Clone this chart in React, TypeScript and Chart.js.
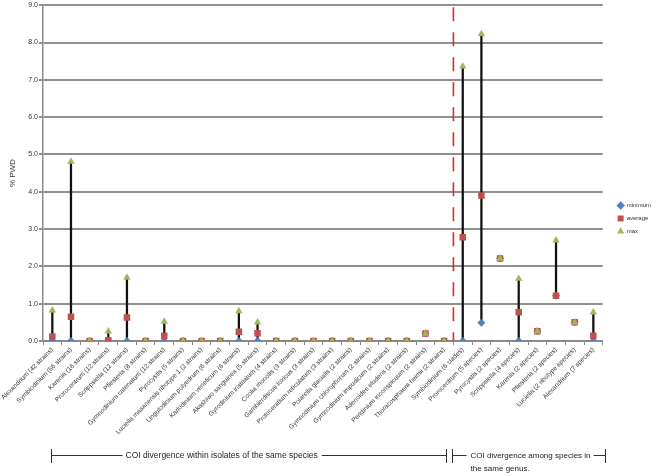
import { useEffect, useRef } from 'react';
import { Chart, registerables } from 'chart.js';

Chart.register(...registerables);

const categories = [
  'Alexandrium (42 strains)',
  'Symbiodinium (66 strains)',
  'Karenia (16 strains)',
  'Prorocentrum (12 strains)',
  'Scrippsiella (12 strains)',
  'Pfiesteria (8 strains)',
  'Gymnodinium catenatum (12 strains)',
  'Pyrocystis (5 strains)',
  'Luciella masanensis ribotype 1 (2 strains)',
  'Lingulodinium polyedrum (6 strains)',
  'Karlodinium veneficum (6 strains)',
  'Akashiwo sanguinea (5 strains)',
  'Gyrodinium instriatum (4 strains)',
  'Coolia monotis (3 strains)',
  'Gambierdiscus toxicus (3 strains)',
  'Protoceratium reticulatum (3 strains)',
  'Polarella glacialis (2 strains)',
  'Gymnodinium chlorophorum (2 strains)',
  'Gymnodinium impudicum (2 strains)',
  'Adenoides eludens (2 strains)',
  'Peridinium inconspicuum (2 strains)',
  'Thoracosphaera heimii (2 strains)',
  'Symbiodinium (6 clades)',
  'Prorocentrum (5 species)',
  'Pyrocystis (2 species)',
  'Scrippsiella (4 species)',
  'Karenia (2 species)',
  'Pfiesteria (2 species)',
  'Luciella (2 ribotype species)',
  'Alexandrium (7 species)',
];

const minimum = [0, 0, 0, 0, 0, 0, 0, 0, 0, 0, 0, 0, 0, 0, 0, 0, 0, 0, 0, 0, 0.2, 0, 0, 0.49, 2.21, 0, 0.26, 1.21, 0.5, 0];
const average = [0.12, 0.65, 0, 0.02, 0.63, 0, 0.14, 0, 0, 0, 0.25, 0.21, 0, 0, 0, 0, 0, 0, 0, 0, 0.2, 0, 2.78, 3.9, 2.21, 0.77, 0.26, 1.21, 0.5, 0.14];
const maximum = [0.82, 4.81, 0, 0.26, 1.7, 0, 0.52, 0, 0, 0, 0.8, 0.5, 0, 0, 0, 0, 0, 0, 0, 0, 0.2, 0, 7.36, 8.23, 2.21, 1.67, 0.26, 2.7, 0.5, 0.77];

const yMin = 0;
const yMax = 9;
const yStep = 1;

const dividerAfterIndex = 21;
const withinLabel = 'COI divergence within isolates of the same species';
const amongLabel1 = 'COI divergence among species in';
const amongLabel2 = 'the same genus.';

const FONT = '"Liberation Sans", Arial, sans-serif';

export default function App() {
  const ref = useRef<HTMLCanvasElement | null>(null);

  useEffect(() => {
    document.body.style.margin = '0';
    const canvas = ref.current;
    if (!canvas) return;

    const dividerPlugin = {
      id: 'divider',
      beforeDatasetsDraw(chart: any) {
        const { ctx, chartArea } = chart;
        const xs = chart.scales.x;
        const px = (xs.getPixelForValue(dividerAfterIndex) + xs.getPixelForValue(dividerAfterIndex + 1)) / 2;
        ctx.save();
        ctx.strokeStyle = '#e3262c';
        ctx.lineWidth = 1.6;
        ctx.setLineDash([14, 11]);
        ctx.beginPath();
        ctx.moveTo(px, chartArea.top + 2);
        ctx.lineTo(px, chartArea.bottom);
        ctx.stroke();
        ctx.restore();
      },
    };

    const legendShift = {
      id: 'legendShift',
      afterLayout(chart: any) {
        const lg = chart.legend;
        if (!lg) return;
        lg.left += 8;
        lg.right += 8;
        lg.top -= 22;
        lg.bottom -= 22;
      },
    };

    const bracketPlugin = {
      id: 'brackets',
      afterDraw(chart: any) {
        const { ctx, chartArea } = chart;
        const xs = chart.scales.x;
        const boundary = (xs.getPixelForValue(dividerAfterIndex) + xs.getPixelForValue(dividerAfterIndex + 1)) / 2;
        const left = Math.round(xs.getPixelForValue(0)) - 0.5;
        const right = Math.round(chartArea.right) + 2.5;
        const y = 455.5;
        const y0 = 449;
        const y1 = 463;
        ctx.save();
        ctx.strokeStyle = '#333';
        ctx.fillStyle = '#222';
        ctx.lineWidth = 1;
        ctx.textBaseline = 'middle';
        const vert = (x: number) => {
          ctx.beginPath();
          ctx.moveTo(x, y0);
          ctx.lineTo(x, y1);
          ctx.stroke();
        };
        const hor = (a: number, b: number) => {
          ctx.beginPath();
          ctx.moveTo(a, y);
          ctx.lineTo(b, y);
          ctx.stroke();
        };
        const e1 = Math.round(boundary) - 6.5;
        vert(left);
        ctx.font = `8.5px ${FONT}`;
        const t1x = left + 74;
        const w1 = ctx.measureText(withinLabel).width;
        hor(left, t1x - 3);
        ctx.fillText(withinLabel, t1x, y + 0.5);
        hor(t1x + w1 + 4, e1);
        vert(e1);
        const s2 = Math.round(boundary) - 0.5;
        vert(s2);
        const t2x = s2 + 18;
        hor(s2, t2x - 4);
        ctx.font = `8px ${FONT}`;
        const w2 = ctx.measureText(amongLabel1).width;
        ctx.fillText(amongLabel1, t2x, y + 0.5);
        ctx.fillText(amongLabel2, t2x, y + 13.5);
        hor(t2x + w2 + 3, right);
        vert(right);
        ctx.restore();
      },
    };

    const chart = new Chart(canvas, {
      type: 'bar',
      data: {
        labels: categories,
        datasets: [
          {
            type: 'bar',
            label: 'range',
            data: categories.map((_, i) => [minimum[i], maximum[i]]) as any,
            backgroundColor: '#111',
            borderWidth: 0,
            barThickness: 1.6,
            order: 10,
          },
          {
            type: 'line',
            label: 'minimum',
            data: minimum,
            showLine: false,
            pointStyle: 'rectRot',
            pointRadius: 4,
            backgroundColor: '#4f81bd',
            borderColor: '#4f81bd',
            borderWidth: 0,
            order: 3,
          },
          {
            type: 'line',
            label: 'average',
            data: average,
            showLine: false,
            pointStyle: 'rect',
            pointRadius: 4.6,
            backgroundColor: '#c0504d',
            borderColor: '#c0504d',
            borderWidth: 0,
            order: 2,
          },
          {
            type: 'line',
            label: 'max',
            data: maximum,
            showLine: false,
            pointStyle: 'triangle',
            pointRadius: 4.3,
            backgroundColor: '#9bbb59',
            borderColor: '#9bbb59',
            borderWidth: 0,
            order: 1,
          },
        ],
      },
      options: {
        responsive: false,
        animation: false,
        devicePixelRatio: 1,
        layout: { padding: { top: 5, left: 0, right: 8, bottom: 0 } },
        plugins: {
          tooltip: { enabled: false },
          legend: {
            position: 'right',
            labels: {
              usePointStyle: true,
              font: { size: 6, family: FONT },
              color: '#333',
              padding: 7,
              filter: (item: any) => item.datasetIndex > 0,
              sort: (a: any, b: any) => a.datasetIndex - b.datasetIndex,
            },
          },
        },
        scales: {
          x: {
            offset: true,
            grid: {
              display: true,
              drawOnChartArea: false,
              drawTicks: true,
              tickLength: 4,
              color: '#8a8a8a',
              offset: true,
            },
            border: { display: true, color: '#8a8a8a', width: 2 },
            ticks: {
              autoSkip: false,
              maxRotation: 45,
              minRotation: 45,
              font: { size: 6.5, family: FONT },
              color: '#333',
              padding: 1,
            },
            afterFit: (s: any) => {
              s.height = 135;
            },
          },
          y: {
            min: yMin,
            max: yMax,
            ticks: {
              stepSize: yStep,
              callback: (v: any) => Number(v).toFixed(1),
              font: { size: 7, family: FONT },
              color: '#333',
              padding: 1,
            },
            grid: { color: '#8f8f8f', lineWidth: 2, tickLength: 4, drawTicks: true },
            border: { color: '#8a8a8a', width: 1.5 },
            title: {
              display: true,
              text: '% PWD',
              font: { size: 8, family: FONT },
              color: '#333',
              padding: { top: 8, bottom: 0 },
            },
            afterFit: (s: any) => {
              s.width = 43;
            },
          },
        },
      },
      plugins: [dividerPlugin, legendShift, bracketPlugin],
    });

    return () => chart.destroy();
  }, []);

  return (
    <div style={{ width: 661, height: 476, position: 'relative' }}>
      <canvas ref={ref} width={661} height={476} />
    </div>
  );
}
